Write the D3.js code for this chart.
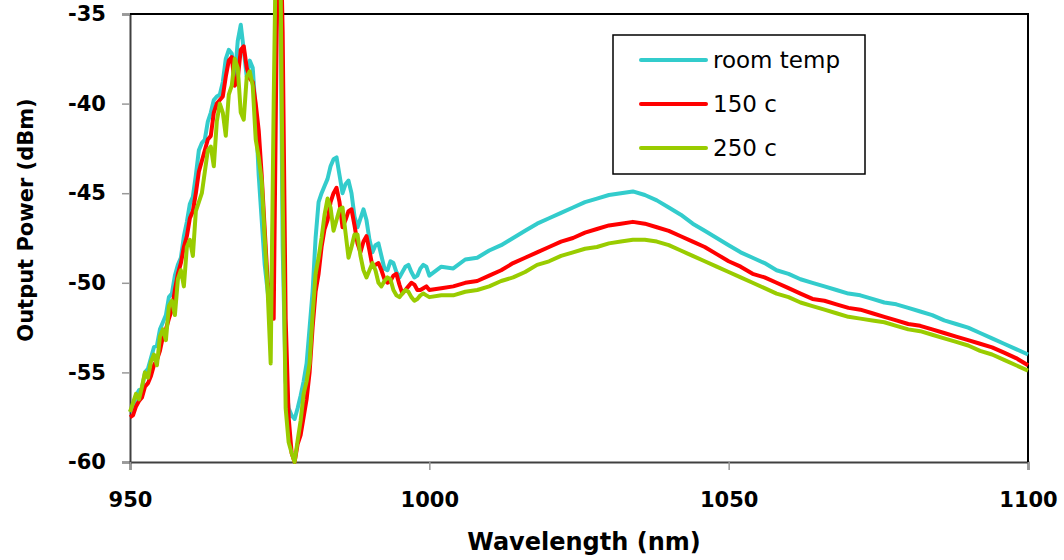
<!DOCTYPE html>
<html>
<head>
<meta charset="utf-8">
<script src="https://cdn.jsdelivr.net/npm/d3@7"></script>
<style>
  body { margin: 0; background: #fff; }
  svg { display: block; }
</style>
</head>
<body>
<div id="chart"></div>
<script>
// wavelength grid: 0.5 nm steps up to 1000, then 2 nm steps
const wavelengths = d3.range(950, 1000, 0.5).concat(d3.range(1000, 1101, 2))

const seriesNames = ['room temp', '150 c', '250 c']
const seriesColors = ['#33CCCC', '#FF0000', '#99CC00']

const roomTemp = [
  -57.2, -57.0, -56.3, -56.0, -55.9, -55.0, -54.8, -54.2, -53.6, -53.5,
  -52.6, -52.2, -51.8, -50.8, -50.6, -49.6, -49.0, -48.6, -47.4, -46.6,
  -45.6, -45.2, -44.0, -42.6, -42.2, -42.0, -41.0, -40.5, -39.8, -39.6,
  -39.5, -38.8, -37.5, -37.0, -37.2, -38.5, -36.5, -35.6, -37.0, -38.5,
  -37.6, -38.0, -40.5, -44.0, -46.5, -49.0, -50.5, -52.0, -45.0, -29.0,
  -29.0, -48.0, -55.5, -57.0, -57.4, -57.6, -57.0, -56.3, -55.5, -54.5,
  -52.5, -50.5, -47.5, -45.5, -45.0, -44.6, -44.2, -43.5, -43.1, -43.0,
  -44.0, -45.0, -44.5, -44.3, -45.0, -46.3, -46.9, -46.4, -45.9, -46.5,
  -47.6, -48.3, -47.9, -47.8, -48.5, -49.2, -49.3, -48.8, -48.9, -49.4,
  -49.7, -49.4, -49.1, -49.0, -49.4, -49.7, -49.6, -49.2, -49.0, -49.1,
  // 1000 - 1100
  -49.6, -49.1, -49.2, -48.7, -48.6, -48.2, -47.9, -47.5, -47.1, -46.7,
  -46.4, -46.1, -45.8, -45.5, -45.3, -45.1, -45.0, -44.9, -45.1, -45.4,
  -45.8, -46.2, -46.7, -47.1, -47.5, -47.9, -48.3, -48.6, -48.9, -49.3,
  -49.5, -49.8, -50.0, -50.2, -50.4, -50.6, -50.7, -50.9, -51.1, -51.2,
  -51.4, -51.6, -51.8, -52.1, -52.3, -52.5, -52.8, -53.1, -53.4, -53.7,
  -54.0
]

const temp150 = [
  -57.5, -57.4, -56.9, -56.6, -56.4, -55.8, -55.6, -55.2, -54.6, -54.3,
  -53.8, -53.0, -52.6, -52.0, -51.5, -50.4, -49.5, -48.9, -48.0, -47.4,
  -46.4, -46.0, -45.0, -43.8, -43.2, -42.6, -42.0, -41.8, -40.5, -40.0,
  -39.8, -39.6, -38.5, -37.6, -37.4, -39.0, -38.6, -37.0, -36.8, -38.0,
  -38.6, -38.8, -40.0, -41.5, -44.0, -47.0, -50.0, -50.5, -52.0, -36.0,
  -28.0, -36.0, -52.0, -57.5, -59.5, -60.0, -59.0, -58.5, -57.5, -56.5,
  -55.0, -52.5, -50.5, -49.5, -48.0, -47.0, -46.5, -45.5, -45.0, -44.7,
  -45.5, -46.9, -46.5, -46.0, -45.9, -46.8, -47.8, -48.3, -47.7, -47.4,
  -48.2, -49.1, -49.0, -48.9, -49.3, -49.8, -50.0, -49.9, -49.6, -49.5,
  -50.1, -50.6, -50.4, -50.2, -50.0, -50.1, -50.4, -50.4, -50.3, -50.2,
  // 1000 - 1100
  -50.4, -50.3, -50.2, -50.0, -49.9, -49.6, -49.3, -48.9, -48.6, -48.3,
  -48.0, -47.7, -47.5, -47.2, -47.0, -46.8, -46.7, -46.6, -46.7, -46.9,
  -47.1, -47.4, -47.7, -48.0, -48.4, -48.8, -49.1, -49.5, -49.7, -50.0,
  -50.3, -50.6, -50.9, -51.0, -51.2, -51.4, -51.5, -51.7, -51.9, -52.1,
  -52.3, -52.4, -52.6, -52.8, -53.0, -53.2, -53.4, -53.6, -53.9, -54.2,
  -54.6
]

const temp250 = [
  -57.2, -56.7, -56.2, -56.5, -55.8, -55.0, -55.3, -54.4, -54.0, -54.6,
  -53.0, -52.6, -53.2, -51.3, -51.0, -51.8, -49.8, -49.3, -50.2, -48.0,
  -47.6, -48.5, -46.0, -45.5, -45.0, -43.8, -42.6, -42.4, -43.5, -41.0,
  -40.0, -40.5, -41.8, -39.5, -39.0, -37.5, -38.0, -40.5, -40.9, -38.5,
  -38.2, -39.0, -42.0, -43.0, -44.3, -47.5, -50.5, -54.5, -40.0, -28.0,
  -28.0, -45.0, -57.0, -58.9, -59.5, -60.0, -58.8, -57.7, -56.2, -55.5,
  -54.5, -51.8, -49.5, -48.6, -47.5, -46.2, -45.3, -45.8, -47.1, -46.5,
  -45.9, -45.8, -47.2, -48.6, -48.0, -47.3, -47.3, -48.5, -49.3, -49.7,
  -49.3, -48.9, -49.3, -50.0, -50.2, -49.9, -49.7, -49.8, -50.4, -50.7,
  -50.8, -50.6, -50.4, -50.5, -50.8, -51.0, -50.9, -50.7, -50.6, -50.7,
  // 1000 - 1100
  -50.8, -50.7, -50.7, -50.5, -50.4, -50.2, -49.9, -49.7, -49.4, -49.0,
  -48.8, -48.5, -48.3, -48.1, -48.0, -47.8, -47.7, -47.6, -47.6, -47.7,
  -47.9, -48.2, -48.5, -48.8, -49.1, -49.4, -49.7, -50.0, -50.3, -50.6,
  -50.8, -51.1, -51.3, -51.5, -51.7, -51.9, -52.0, -52.1, -52.2, -52.4,
  -52.6, -52.7, -52.9, -53.1, -53.3, -53.5, -53.8, -54.0, -54.3, -54.6,
  -54.9
]

const xTicks = [950, 1000, 1050, 1100]
const yTicks = [-60, -55, -50, -45, -40, -35]

const margin = { top: 14, left: 130, right: 36, bottom: 98 }
const width = 1064 - margin.left - margin.right
const height = 560 - margin.top - margin.bottom

const svg = d3
  .select('#chart')
  .append('svg')
  .attr('width', width + margin.left + margin.right)
  .attr('height', height + margin.top + margin.bottom)
  .append('g')
  .attr('transform', 'translate(' + margin.left + ',' + margin.top + ')')

const xPositionScale = d3.scaleLinear().domain([950, 1100]).range([0, width])
const yPositionScale = d3.scaleLinear().domain([-60, -35]).range([height, 0])

const allSeries = [roomTemp, temp150, temp250].map((values, i) => ({
  name: seriesNames[i],
  color: seriesColors[i],
  points: values.map((v, j) => ({ wl: wavelengths[j], power: v }))
}))

const line = d3
  .line()
  .x(d => xPositionScale(d.wl))
  .y(d => yPositionScale(d.power))

// plain hyphen and no thousands separator, like the original
const plainNumber = d => String(d)

// axes first, so the lines sit on top
const yAxis = d3
  .axisLeft(yPositionScale)
  .tickValues(yTicks)
  .tickFormat(plainNumber)
  .tickSize(8)
  .tickPadding(16)
svg
  .append('g')
  .attr('class', 'axis y-axis')
  .call(yAxis)

const xAxis = d3
  .axisBottom(xPositionScale)
  .tickValues(xTicks)
  .tickFormat(plainNumber)
  .tickSize(8)
  .tickPadding(22)
svg
  .append('g')
  .attr('class', 'axis x-axis')
  .attr('transform', 'translate(0,' + height + ')')
  .call(xAxis)

svg.selectAll('.axis .domain').attr('stroke', '#404040').attr('stroke-width', 2)
svg.selectAll('.axis .tick line').attr('stroke', '#999').attr('stroke-width', 1.5)
svg
  .selectAll('.axis text')
  .attr('fill', '#000')
  .style('font-family', 'DejaVu Sans, Verdana, sans-serif')
  .style('font-weight', 'bold')
  .style('font-size', '21px')

// top and right border of the plot area
svg
  .append('path')
  .attr('d', 'M0,0H' + width + 'V' + height)
  .attr('fill', 'none')
  .attr('stroke', '#000')
  .attr('stroke-width', 2)

svg
  .selectAll('.series')
  .data(allSeries)
  .enter()
  .append('path')
  .attr('class', 'series')
  .attr('d', d => line(d.points))
  .attr('fill', 'none')
  .attr('stroke', d => d.color)
  .attr('stroke-width', 4)
  .attr('stroke-linejoin', 'round')

// axis titles
svg
  .append('text')
  .text('Wavelength (nm)')
  .attr('x', (xPositionScale(1000) + xPositionScale(1050)) / 2 + 5)
  .attr('y', height + 88)
  .attr('text-anchor', 'middle')
  .style('font-family', 'DejaVu Sans, Verdana, sans-serif')
  .style('font-weight', 'bold')
  .style('font-size', '24px')

svg
  .append('text')
  .text('Output Power (dBm)')
  .attr('transform', 'translate(-97,' + (height / 2 - 18) + ') rotate(-90)')
  .attr('text-anchor', 'middle')
  .style('font-family', 'DejaVu Sans, Verdana, sans-serif')
  .style('font-weight', 'bold')
  .style('font-size', '21px')

// legend
const legend = svg.append('g').attr('transform', 'translate(' + (613 - margin.left) + ',' + (35 - margin.top) + ')')

legend
  .append('rect')
  .attr('width', 252)
  .attr('height', 139)
  .attr('fill', '#fff')
  .attr('stroke', '#000')
  .attr('stroke-width', 1.5)

const legendItem = legend
  .selectAll('.legend-item')
  .data(allSeries)
  .enter()
  .append('g')
  .attr('class', 'legend-item')
  .attr('transform', (d, i) => 'translate(0,' + (25 + i * 44) + ')')

legendItem
  .append('line')
  .attr('x1', 28)
  .attr('x2', 93)
  .attr('stroke', d => d.color)
  .attr('stroke-width', 4)
  .attr('stroke-linecap', 'round')

legendItem
  .append('text')
  .text(d => d.name)
  .attr('x', 100)
  .attr('dy', '0.35em')
  .style('font-family', 'DejaVu Sans, sans-serif')
  .style('font-size', '23px')
</script>
</body>
</html>
